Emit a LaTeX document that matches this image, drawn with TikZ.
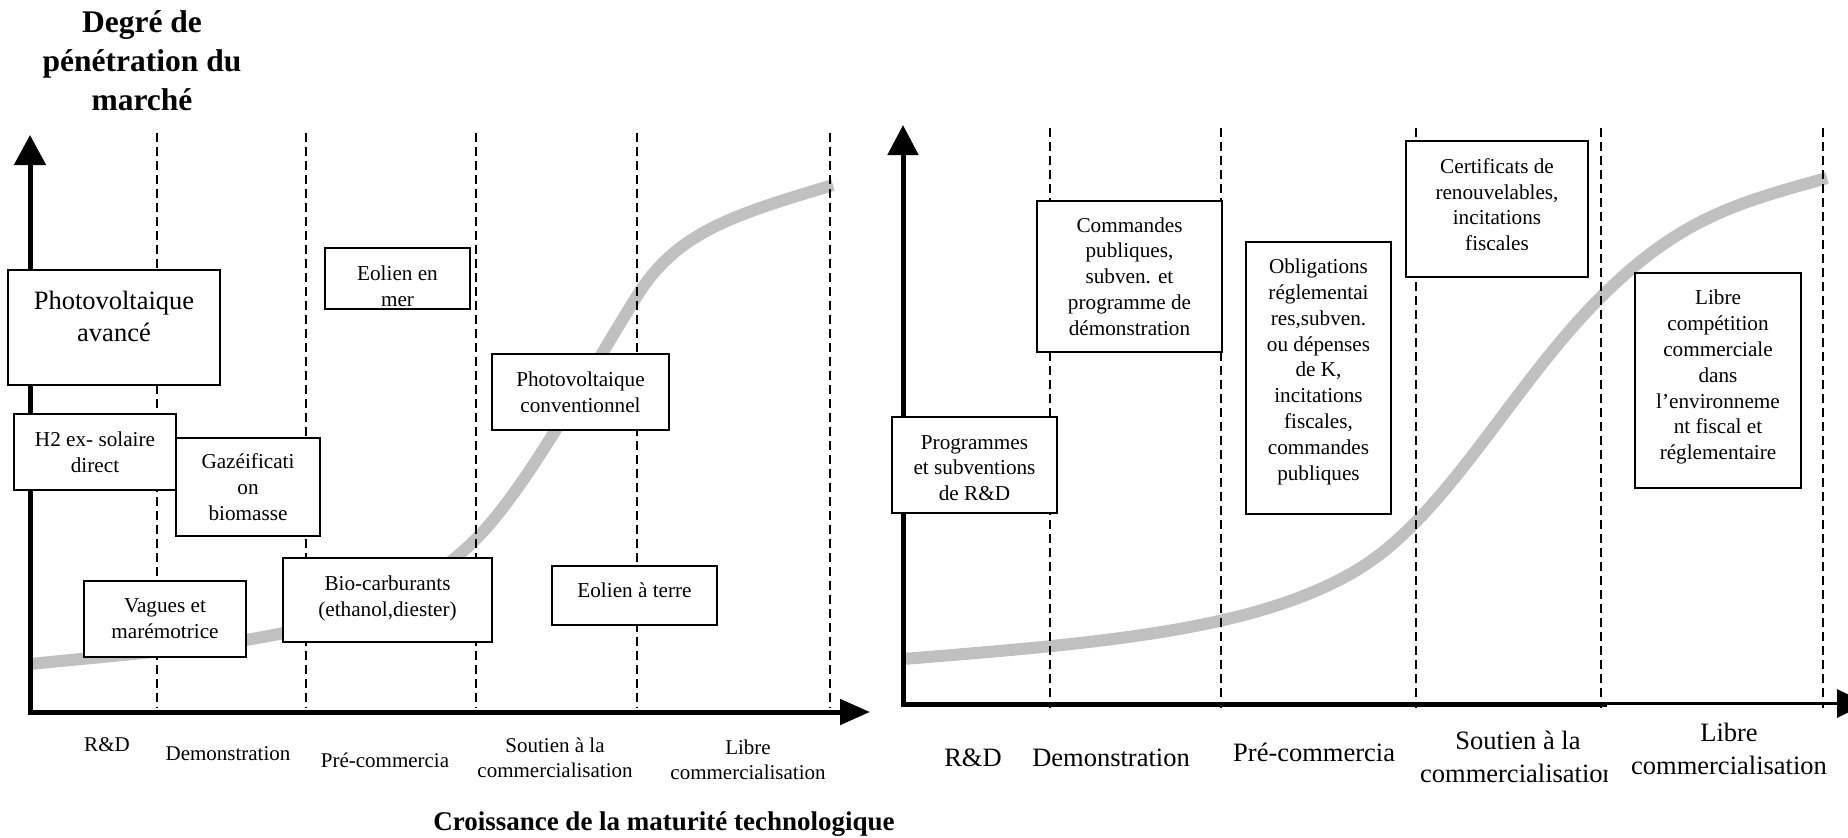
\documentclass[tikz,border=0pt]{standalone}
\usepackage{fontspec}
\setmainfont{Liberation Serif}
\usepackage{tikz}
\usetikzlibrary{arrows.meta}

\definecolor{trendgray}{RGB}{192,192,192}
\newcommand{\padbelow}[1]{\rule[-#1]{0pt}{#1}}

\begin{document}
\begin{tikzpicture}[x=1pt, y=-1pt,
    box/.style={draw, line width=1.8pt, fill=white, align=center, inner sep=0pt,
      font=\fontsize{21.2}{25.8}\selectfont},
    phase/.style={align=center, inner sep=0pt, font=\fontsize{21}{25}\selectfont},
    bigphase/.style={align=center, inner sep=0pt, font=\fontsize{26.5}{32.5}\selectfont},
    headline/.style={align=center, inner sep=0pt, font=\bfseries\fontsize{31.5}{39}\selectfont},
    limit/.style={dash pattern=on 9pt off 5pt, line width=1.8pt},
    trend/.style={line width=12pt, trendgray},
    axis/.style={line width=5pt, -{Triangle[length=30pt, width=#1]}}]

  \useasboundingbox (0,0) rectangle (1848,838);
  \clip (0,0) rectangle (1848,838);
  \fill [white] (0,0) rectangle (1848,838);

  % left panel
  \draw [trend] (30,664) .. controls (230,644) and (376,639) .. (476,539)
    .. controls (526,489) and (587,376) .. (637,296)
    .. controls (677,232) and (733,215) .. (833,185);

  \draw [limit] (157,133) -- (157,708) (306,133) -- (306,708) (476,133) -- (476,708)
    (637,133) -- (637,708) (830,133) -- (830,708);

  \coordinate (origL) at (30,712);
  \draw [axis=31pt] (30,714.5) -- (30,135);
  \draw [axis=25pt] (27.5,712) -- (870,712);

  \node [headline, name=ytitle] at (142,61) {Degré de\\pénétration du\\marché};

  \node [box, name=pvav, minimum width=212pt, minimum height=115pt,
    font=\fontsize{26.5}{32}\selectfont] at (114,327.5) {Photovoltaique\\avancé\padbelow{23pt}};
  \node [box, name=eolmer, minimum width=145pt, minimum height=61pt] at (397.5,278.5)
    {\rule{0pt}{30pt}Eolien en\\mer};
  \node [box, name=htwo, minimum width=162pt, minimum height=76pt] at (95,452)
    {H2 ex- solaire\\direct};
  \node [box, name=gazei, minimum width=144pt, minimum height=98pt] at (248,487)
    {Gazéificati\\on\\biomasse};
  \node [box, name=vagues, minimum width=162pt, minimum height=76pt] at (165,619)
    {Vagues et\\marémotrice};
  \node [box, name=biocarb, minimum width=209pt, minimum height=84pt] at (387.5,600)
    {Bio-carburants\\(ethanol,diester)\padbelow{8pt}};
  \node [box, name=pvconv, minimum width=177pt, minimum height=76pt] at (580.5,392)
    {Photovoltaique\\conventionnel};
  \node [box, name=eolterre, minimum width=165pt, minimum height=59pt] at (634.5,595.5)
    {Eolien à terre\padbelow{11pt}};

  \node [phase, anchor=base, name=rdL] at (107,751) {R\&D};
  \node [phase, anchor=base, name=demoL] at (228,760) {Demonstration};
  \node [phase, anchor=base, name=precoL] at (385,767) {Pré-commercia};
  \node [phase, name=soutL] at (555,758) {Soutien à la\\commercialisation};
  \node [phase, name=libreL] at (748,760) {Libre\\commercialisation};

  \node [name=xtitle, anchor=base, inner sep=0pt, font=\bfseries\fontsize{27}{32}\selectfont]
    at (664,830) {Croissance de la maturité technologique};

  % right panel
  \draw [trend] (903,659) .. controls (1103,643) and (1257,630) .. (1357,570)
    .. controls (1447,516) and (1510,388) .. (1600,298)
    .. controls (1680,218) and (1737,203) .. (1827,178);

  \draw [limit] (1050,128) -- (1050,708) (1221,128) -- (1221,708) (1416,128) -- (1416,708)
    (1601,128) -- (1601,708) (1823,128) -- (1823,708);

  \coordinate (origR) at (903,704.5);
  \draw [axis=30pt] (903,707) -- (903,125);
  \draw [line width=5.5pt] (900.5,704.5) -- (1607,704.5);
  \draw [line width=3pt, -{Triangle[length=30pt, width=28pt]}] (1605,703.5) -- (1867,703.5);

  \node [box, name=progrd, minimum width=165pt, minimum height=96pt] at (974.5,465)
    {\rule{0pt}{20pt}Programmes\\et subventions\\de R\&D};
  \node [box, name=commpub, minimum width=185pt, minimum height=151pt] at (1129.5,276.5)
    {Commandes\\publiques,\\subven. et\\programme de\\démonstration};
  \node [box, name=oblig, minimum width=145pt, minimum height=272pt] at (1318.5,378)
    {Obligations\\réglementai\\res,subven.\\ou dépenses\\de K,\\incitations\\fiscales,\\commandes\\publiques\padbelow{17pt}};
  \node [box, name=certif, minimum width=182pt, minimum height=136pt] at (1497,209)
    {Certificats de\\renouvelables,\\incitations\\fiscales\padbelow{9pt}};
  \node [box, name=librecomp, minimum width=166pt, minimum height=215pt] at (1718,380.5)
    {Libre\\compétition\\commerciale\\dans\\l’environneme\\nt fiscal et\\réglementaire\padbelow{11pt}};

  \node [bigphase, anchor=base, name=rdR] at (973,766) {R\&D};
  \node [bigphase, anchor=base, name=demoR] at (1111,766) {Demonstration};
  \node [bigphase, anchor=base west, name=precoR] at (1233,761) {Pré-commercia};
  \begin{scope}
    \clip (1400,700) rectangle (1607,800);
    \node [bigphase, name=soutR] at (1518,757) {Soutien à la\\commercialisation};
  \end{scope}
  \node [bigphase, name=libreR] at (1729,749) {Libre\\commercialisation};

\end{tikzpicture}
\end{document}
